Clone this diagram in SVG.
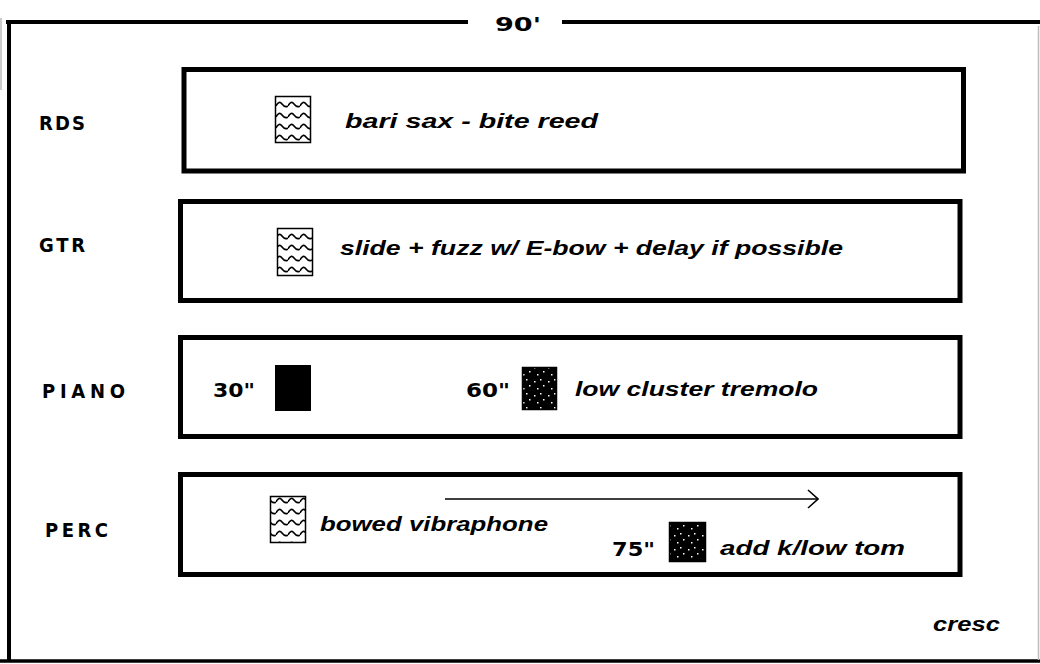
<svg xmlns="http://www.w3.org/2000/svg" width="1040" height="664" viewBox="0 0 1040 664">
<defs>
<style>
.frame{fill:none;stroke:#000;stroke-width:4}
.box{fill:#fff;stroke:#000;stroke-width:5}
.lbl{font-family:"DejaVu Sans Condensed","Liberation Sans",Arial,sans-serif;font-weight:bold;font-size:20px;fill:#000}
.num{font-family:"DejaVu Sans Condensed","Liberation Sans",Arial,sans-serif;font-weight:bold;font-size:20px;fill:#000}
.it{font-family:"Liberation Sans",Arial,sans-serif;font-weight:bold;font-style:italic;font-size:20px;fill:#000}
.icon{stroke:#000;stroke-width:1.5}
.conn{fill:none;stroke:#000;stroke-width:1.6}
</style>
<pattern id="wave" width="12" height="11" patternUnits="userSpaceOnUse">
<rect width="12" height="11" fill="#fff"/>
<path d="M0,7 Q3,1 6,5 T12,7" fill="none" stroke="#000" stroke-width="1.6"/>
</pattern>
<pattern id="dots" width="14" height="14" patternUnits="userSpaceOnUse">
<rect width="14" height="14" fill="#000"/>
<rect x="2" y="3" width="1.5" height="1.5" fill="#fff"/>
<rect x="8" y="1" width="1.5" height="1.5" fill="#fff"/>
<rect x="11" y="7" width="1.5" height="1.5" fill="#fff"/>
<rect x="5" y="10" width="1.5" height="1.5" fill="#fff"/>
</pattern>
<marker id="open" viewBox="0 0 12 20" refX="11" refY="10" markerWidth="12" markerHeight="20" markerUnits="userSpaceOnUse" orient="auto">
<path d="M1,1 L11,10 L1,19" fill="none" stroke="#000" stroke-width="1.6"/>
</marker>
</defs>
<rect width="1040" height="664" fill="#fff"/>
<g id="frame">
<line x1="1" y1="18" x2="1" y2="90" stroke="#bbb" stroke-width="1.5"/>
<line x1="6" y1="22" x2="468" y2="22" class="frame"/>
<line x1="562" y1="22" x2="1040" y2="22" class="frame"/>
<line x1="9" y1="20" x2="9" y2="662" class="frame"/>
<line x1="0" y1="661" x2="1040" y2="661" stroke="#000" stroke-width="3.5"/>
<line x1="1038.5" y1="26" x2="1038.5" y2="660" stroke="#bbb" stroke-width="1.5"/>
<text x="495" y="31" class="num" font-size="22" textLength="46" lengthAdjust="spacingAndGlyphs">90'</text>
</g>
<g id="rds">
<text x="39" y="130" class="lbl" textLength="46" lengthAdjust="spacing">RDS</text>
<rect x="184" y="69.5" width="779.5" height="101.5" class="box"/>
<rect x="275.5" y="96.5" width="35" height="46" fill="url(#wave)" class="icon"/>
<text x="345" y="128" class="it" textLength="253" lengthAdjust="spacingAndGlyphs">bari sax  -  bite reed</text>
</g>
<g id="gtr">
<text x="39" y="252" class="lbl" textLength="46" lengthAdjust="spacing">GTR</text>
<rect x="180.5" y="201.5" width="779.5" height="99" class="box"/>
<rect x="277.5" y="228.5" width="35" height="47" fill="url(#wave)" class="icon"/>
<text x="340" y="255" class="it" textLength="503" lengthAdjust="spacingAndGlyphs">slide + fuzz w/ E-bow + delay if possible</text>
</g>
<g id="piano">
<text x="42" y="398" class="lbl" textLength="83" lengthAdjust="spacing">PIANO</text>
<rect x="180.5" y="337.5" width="779.5" height="99" class="box"/>
<text x="213" y="397" class="num" textLength="42" lengthAdjust="spacingAndGlyphs">30"</text>
<rect x="275" y="365" width="36" height="46" fill="#000"/>
<text x="466" y="397" class="num" textLength="44" lengthAdjust="spacingAndGlyphs">60"</text>
<rect x="522.5" y="367.5" width="34" height="42" fill="url(#dots)" class="icon"/>
<text x="575" y="396" class="it" textLength="243" lengthAdjust="spacingAndGlyphs">low cluster tremolo</text>
</g>
<g id="perc">
<text x="45" y="537" class="lbl" textLength="63" lengthAdjust="spacing">PERC</text>
<rect x="180.5" y="474.5" width="779.5" height="100" class="box"/>
<rect x="270.5" y="496.5" width="35" height="46" fill="url(#wave)" class="icon"/>
<text x="320" y="531" class="it" textLength="228" lengthAdjust="spacingAndGlyphs">bowed vibraphone</text>
<text x="612" y="556" class="num" textLength="43" lengthAdjust="spacingAndGlyphs">75"</text>
<rect x="669.5" y="522.5" width="36" height="39" fill="url(#dots)" class="icon"/>
<text x="720" y="555" class="it" textLength="185" lengthAdjust="spacingAndGlyphs">add k/low tom</text>
</g>
<g id="connectors">
<line x1="445" y1="499" x2="818" y2="499" class="conn" marker-end="url(#open)"/>
</g>
<text x="933" y="631" class="it" font-size="17" textLength="67" lengthAdjust="spacingAndGlyphs">cresc</text>
</svg>
